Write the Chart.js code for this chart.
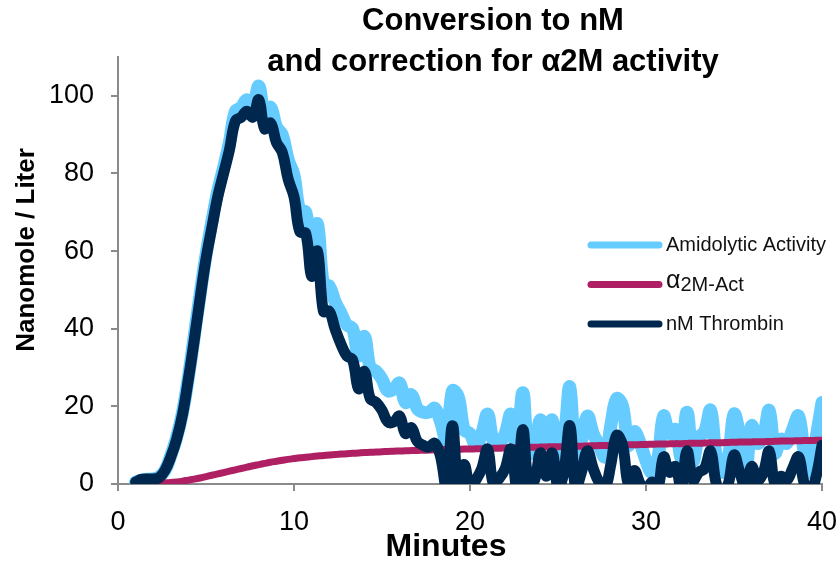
<!DOCTYPE html>
<html>
<head>
<meta charset="utf-8">
<script src="https://cdn.jsdelivr.net/npm/chart.js@4"></script>
<style>
  html, body { margin: 0; padding: 0; background: #fff; }
  #wrap { width: 840px; height: 575px; position: relative; }
</style>
</head>
<body>
<div id="wrap"><canvas id="thrombinChart"></canvas></div>
<script>
// sample times (minutes, every 20 s)
const minutes = [
  1.00, 1.33, 1.67, 2.00, 2.33, 2.67, 3.00, 3.33, 3.67, 4.00,
  4.33, 4.67, 5.00, 5.33, 5.67, 6.00, 6.33, 6.67, 7.00, 7.33,
  7.67, 8.00, 8.33, 8.67, 9.00, 9.33, 9.67, 10.00, 10.33, 10.67,
  11.00, 11.33, 11.67, 12.00, 12.33, 12.67, 13.00, 13.33, 13.67, 14.00,
  14.33, 14.67, 15.00, 15.33, 15.67, 16.00, 16.33, 16.67, 17.00, 17.33,
  17.67, 18.00, 18.33, 18.67, 19.00, 19.33, 19.67, 20.00, 20.33, 20.67,
  21.00, 21.33, 21.67, 22.00, 22.33, 22.67, 23.00, 23.33, 23.67, 24.00,
  24.33, 24.67, 25.00, 25.33, 25.67, 26.00, 26.33, 26.67, 27.00, 27.33,
  27.67, 28.00, 28.33, 28.67, 29.00, 29.33, 29.67, 30.00, 30.33, 30.67,
  31.00, 31.33, 31.67, 32.00, 32.33, 32.67, 33.00, 33.33, 33.67, 34.00,
  34.33, 34.67, 35.00, 35.33, 35.67, 36.00, 36.33, 36.67, 37.00, 37.33,
  37.67, 38.00, 38.33, 38.67, 39.00, 39.33, 39.67, 40.00
];

const amidolytic = [
  0.5, 1, 1.2, 1.3, 1.8, 3.5, 7.3, 12, 18.5, 27.5,
  38, 49, 59, 67.5, 75.5, 81.5, 88, 96, 97, 99,
  97.5, 102.5, 95, 97, 92, 90, 83.5, 79.5, 70.5, 70,
  60, 67, 51.5, 51, 47, 44, 41, 40, 33, 38,
  30, 29, 27, 24, 24.5, 26, 21, 23, 19.5, 18.5,
  18.5, 19.5, 16, 11, 24, 22.5, 14, 13, 10, 13,
  18, 11, 10.5, 13, 18, 9, 23.5, 8, 9, 16.5,
  11, 16.5, 6.5, 11, 25, 5.5, 11, 17.5, 13, 10,
  7, 15, 22, 20, 10, 13.5, 10.5, 6, 3, 6.5,
  17.5, 13, 14, 7, 18.5, 6, 12, 13.5, 19, 7,
  3, 6.5, 18, 12.5, 4, 15, 10.5, 12.5, 19, 8,
  11.5, 10.5, 14, 17.5, 8, 3, 12, 21
];

const alpha2mAct = [
  0, 0, 0.05, 0.1, 0.2, 0.3, 0.4, 0.55, 0.75, 1.0,
  1.25, 1.55, 1.9, 2.25, 2.6, 2.95, 3.3, 3.65, 4.0, 4.35,
  4.7, 5.0, 5.3, 5.6, 5.85, 6.1, 6.35, 6.55, 6.75, 6.9,
  7.05, 7.2, 7.35, 7.45, 7.6, 7.7, 7.8, 7.9, 8.0, 8.1,
  8.15, 8.25, 8.3, 8.4, 8.45, 8.5, 8.55, 8.6, 8.65, 8.7,
  8.75, 8.8, 8.85, 8.9, 8.9, 8.95, 9.0, 9.0, 9.05, 9.1,
  9.15, 9.2, 9.2, 9.3, 9.3, 9.35, 9.4, 9.45, 9.45, 9.5,
  9.55, 9.6, 9.6, 9.65, 9.7, 9.7, 9.75, 9.8, 9.85, 9.9,
  9.9, 9.95, 10.0, 10.05, 10.1, 10.1, 10.15, 10.2, 10.25, 10.3,
  10.3, 10.35, 10.4, 10.4, 10.45, 10.5, 10.5, 10.55, 10.6, 10.6,
  10.65, 10.7, 10.75, 10.8, 10.8, 10.85, 10.9, 10.9, 10.95, 11.0,
  11.05, 11.05, 11.1, 11.15, 11.2, 11.2, 11.25, 11.3
];

const nmThrombin = [
  0.5, 1.2, 1.3, 1.3, 1.6, 3.5, 7, 11.5, 18, 27,
  37, 48, 58, 66, 74, 80, 86, 93.5, 94.5, 96,
  94.5, 99, 91.5, 93, 88, 85.5, 78.5, 74, 65, 64.5,
  53.5, 60, 44.5, 44.5, 40, 36, 33, 32, 24.5, 29,
  22, 21, 19, 16, 16, 17.5, 13, 14.5, 11, 10,
  9.5, 10.5, 7, -1, 15, 0, 5, -1, 1, 4,
  9, 0, 1.5, 4, 9, -1, 14, 0, 1, 8,
  2, 8, -1, 3, 15, -1, 3, 8.5, 4, 0.5,
  -1, 5, 12.5, 10, 0, 3.5, 0, -2, 0.5, -1,
  7, 3, 4.5, -1, 8.5, 1, 3, 4, 8.5, 0,
  -2, 0, 7.5, 3, -1, 4.5, 1, 3, 8.5, 0,
  2, 1, 4, 7, 0, -2, 2, 10
];

const xTicks = [0, 10, 20, 30, 40];
const yTicks = [0, 20, 40, 60, 80, 100];
const titleLines = ["Conversion to nM", "and correction for \u03b12M activity"];
const xTitle = "Minutes";
const yTitle = "Nanomole / Liter";
const seriesLabels = ["Amidolytic Activity", "\u03b12M-Act", "nM Thrombin"];
const seriesColors = ["#66CCFF", "#AE1F63", "#00284F"];

const FONT = "'Liberation Sans', Arial, sans-serif";
const AXIS_GREY = "#8A8A8A";

function toPoints(values) {
    return values.map((v, i) => ({ x: minutes[i], y: v }));
}

function fixedTicks(list) {
    return function (scale) {
        scale.ticks = list.map(v => ({ value: v }));
    };
}

// legend label: a leading greek letter is drawn a bit larger, as in the original
function drawLegendLabel(ctx, text, x, y) {
    if (text.charAt(0) === "\u03b1") {
        ctx.font = "25px " + FONT;
        ctx.fillText(text.charAt(0), x, y - 3);
        const w = ctx.measureText(text.charAt(0)).width;
        ctx.font = "20px " + FONT;
        ctx.fillText(text.slice(1), x + w, y + 1);
    } else {
        ctx.font = "20px " + FONT;
        ctx.fillText(text, x, y);
    }
}

// titles + legend drawn over the plot, like the original layout
const overlayText = {
    id: "overlayText",
    afterDraw(chart) {
        const ctx = chart.ctx;
        ctx.save();
        ctx.fillStyle = "#000";
        ctx.textAlign = "center";
        ctx.textBaseline = "middle";
        ctx.font = "bold 31px " + FONT;
        ctx.fillText(titleLines[0], 493, 21);
        ctx.fillText(titleLines[1], 493, 62);

        ctx.font = "bold 32px " + FONT;
        ctx.fillText(xTitle, 446, 547);

        ctx.save();
        ctx.translate(27, 250);
        ctx.rotate(-Math.PI / 2);
        ctx.font = "bold 26px " + FONT;
        ctx.fillText(yTitle, 0, 0);
        ctx.restore();

        // legend
        ctx.textAlign = "left";
        ctx.lineCap = "round";
        chart.data.datasets.forEach((ds, i) => {
            const y = 245 + i * 39.5;
            ctx.strokeStyle = ds.borderColor;
            ctx.lineWidth = 7;
            ctx.beginPath();
            ctx.moveTo(591, y);
            ctx.lineTo(659, y);
            ctx.stroke();
            ctx.fillStyle = "#111";
            drawLegendLabel(ctx, ds.label, 666, y);
        });
        ctx.restore();
    }
};

function makeSeries(i, values, width, order) {
    return {
        label: seriesLabels[i],
        data: toPoints(values),
        borderColor: seriesColors[i],
        backgroundColor: seriesColors[i],
        borderWidth: width,
        borderCapStyle: "round",
        borderJoinStyle: "round",
        pointRadius: 0,
        tension: 0.4,
        fill: false,
        order: order
    };
}

const canvasEl = document.getElementById("thrombinChart");
const thrombinChart = new Chart(canvasEl, {
    type: "line",
    data: {
        datasets: [
            makeSeries(0, amidolytic, 13, 3),
            makeSeries(1, alpha2mAct, 7, 2),
            makeSeries(2, nmThrombin, 11, 1)
        ]
    },
    options: {
        responsive: true,
        maintainAspectRatio: false,
        animation: false,
        layout: {
            padding: { top: 57, right: 18, bottom: 0, left: 0 }
        },
        plugins: {
            legend: { display: false },
            title: { display: false },
            tooltip: { enabled: false }
        },
        scales: {
            x: {
                type: "linear",
                min: 0,
                max: 40,
                afterBuildTicks: fixedTicks(xTicks),
                afterFit: function (scale) {
                    scale.height = 91;
                    // keep the plot edge at the layout padding, labels may overhang
                    scale.paddingLeft = 0;
                    scale.paddingRight = 0;
                },
                grid: { drawOnChartArea: false, tickLength: 7, color: AXIS_GREY, lineWidth: 2 },
                border: { color: AXIS_GREY, width: 2 },
                ticks: {
                    color: "#000",
                    padding: 15,
                    maxRotation: 0,
                    font: { family: FONT, size: 27 }
                }
            },
            y: {
                min: 0,
                max: 110,
                afterBuildTicks: fixedTicks(yTicks),
                afterFit: function (scale) {
                    scale.width = 118;
                    scale.paddingTop = 0;
                    scale.paddingBottom = 0;
                },
                grid: { drawOnChartArea: false, tickLength: 7, color: AXIS_GREY, lineWidth: 2 },
                border: { color: AXIS_GREY, width: 2 },
                ticks: {
                    color: "#000",
                    padding: 17,
                    font: { family: FONT, size: 27 }
                }
            }
        }
    },
    plugins: [overlayText]
});
</script>
</body>
</html>
